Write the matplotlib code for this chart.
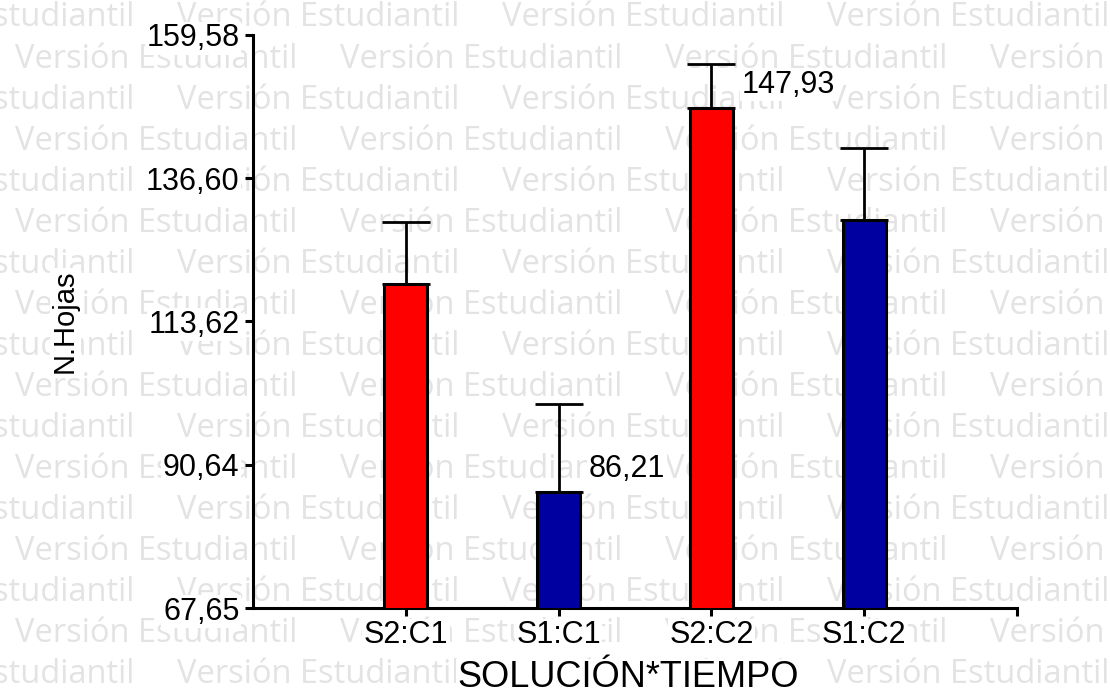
import matplotlib
matplotlib.use("Agg")
import matplotlib.pyplot as plt

categories = ["S2:C1", "S1:C1", "S2:C2", "S1:C2"]
means = [119.70, 86.21, 147.93, 129.95]
errors = [9.82, 14.11, 6.97, 11.49]
bar_colors = ["#FF0000", "#0000A0", "#FF0000", "#0000A0"]
y_ticks = [67.65, 90.64, 113.62, 136.60, 159.58]
y_tick_labels = ["67,65", "90,64", "113,62", "136,60", "159,58"]
annotated = {1: "86,21", 2: "147,93"}
watermark = "Versión Estudiantil"

W, H = 1110, 694
fig = plt.figure(figsize=(W / 100, H / 100), dpi=100)
fig.patch.set_facecolor("white")

# watermark rows
row_y0, row_dy, period = 18, 41.06, 325
for k in range(17):
    yy = row_y0 + k * row_dy
    start = -148 if k % 2 == 0 else 15
    for j in range(5):
        xx = start + j * period
        if xx > W:
            break
        fig.text(xx / W, 1 - yy / H, watermark, fontsize=23.5, family="Open Sans",
                 color="#e3e3e3", ha="left", va="center", zorder=-5)

left, right, top, bottom = 253, 1017, 35, 608
ax = fig.add_axes([left / W, 1 - bottom / H, (right - left) / W, (bottom - top) / H])
ax.set_facecolor("none")

x = list(range(len(categories)))
ax.bar(x, means, width=0.28, color=bar_colors, edgecolor="black", linewidth=2.2, zorder=3)
ax.errorbar(x, means, yerr=[[0] * len(errors), errors], fmt="none", ecolor="black",
            elinewidth=2.0, capsize=17, capthick=2.0, zorder=2)

for i, txt in annotated.items():
    ax.annotate(txt, xy=(x[i], means[i]), xytext=(30, 23), textcoords="offset pixels",
                ha="left", va="center", fontsize=22, family="Liberation Sans",
                bbox=dict(facecolor="white", edgecolor="none", pad=1), zorder=5)

ax.set_xlim(-1, 4)
ax.set_ylim(y_ticks[0], y_ticks[-1])
ax.set_xticks(x + [4])
ax.set_xticklabels(categories + [""])
ax.set_yticks(y_ticks)
ax.set_yticklabels(y_tick_labels)

for s in ["top", "right"]:
    ax.spines[s].set_visible(False)
for s in ["left", "bottom"]:
    ax.spines[s].set_linewidth(2.2)

ax.tick_params(axis="both", direction="out", length=5.8, width=2.2, labelsize=22)
ax.tick_params(axis="x", pad=3)
ax.tick_params(axis="y", pad=4)
for lab in ax.get_xticklabels() + ax.get_yticklabels():
    lab.set_family("Liberation Sans")
    lab.set_bbox(dict(facecolor="white", edgecolor="none", pad=1))

ax.set_xlabel("SOLUCIÓN*TIEMPO", fontsize=26, family="Liberation Sans",
              bbox=dict(facecolor="white", edgecolor="none", pad=1))
ax.xaxis.set_label_coords(0.491, -0.122)
ax.xaxis.label.set_verticalalignment("center")
ax.set_ylabel("N.Hojas", fontsize=21, family="Liberation Sans",
              bbox=dict(facecolor="white", edgecolor="none", pad=1))
ax.yaxis.set_label_coords(-0.246, 0.5)
ax.yaxis.label.set_verticalalignment("center")

fig.savefig("out.png", dpi=100)
